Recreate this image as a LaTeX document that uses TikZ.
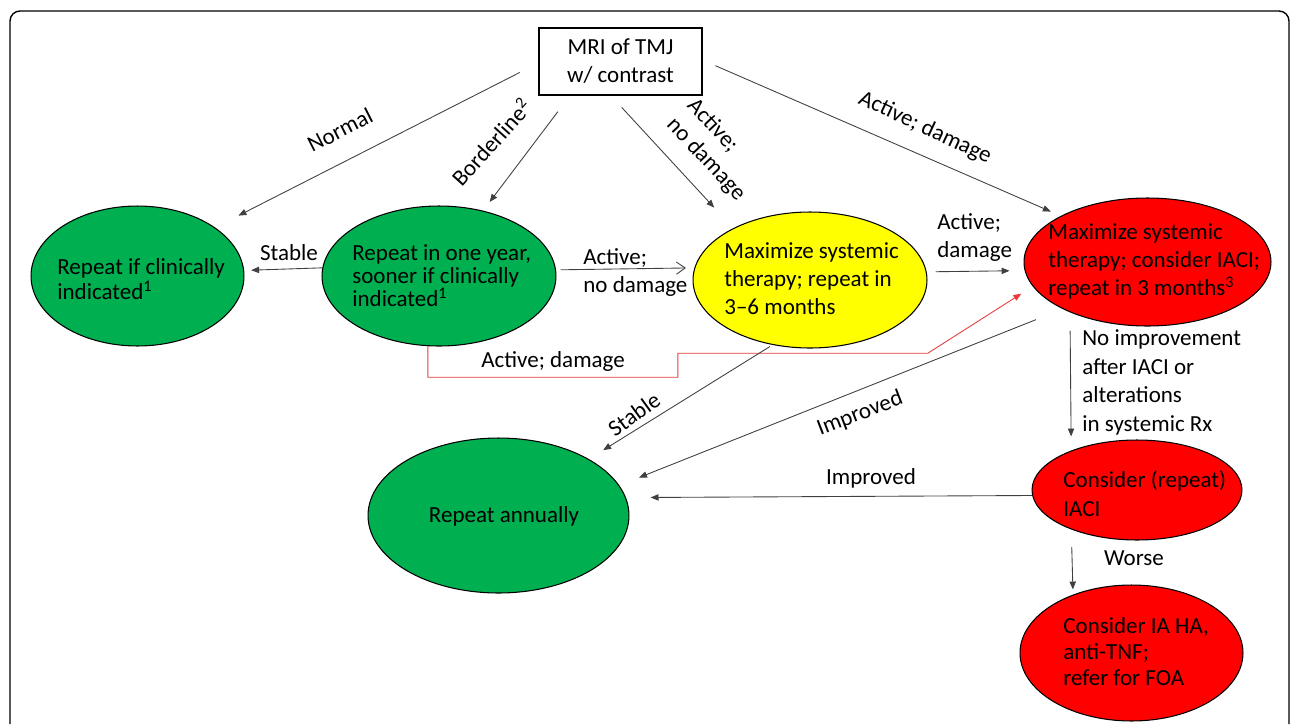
\documentclass[tikz,border=0pt]{standalone}
\usepackage{fontspec}
\setmainfont{Carlito}
\usetikzlibrary{shapes.geometric,arrows.meta}

\definecolor{okgreen}{RGB}{0,176,80}
\definecolor{okyellow}{RGB}{255,255,0}
\definecolor{okred}{RGB}{255,0,0}
\definecolor{lnred}{RGB}{232,60,60}

\tikzset{
  oval/.style={ellipse, draw=black, line width=0.6pt, inner sep=0pt},
  txt/.style={align=left, anchor=west, inner sep=0pt},
  lbl/.style={inner sep=0pt},
  conn/.style={line width=0.5pt, draw=black!75, -{Triangle[length=4.5pt,width=3.6pt]}},
}
\newcommand{\fs}[1]{\fontsize{13.1}{#1}\selectfont}

\begin{document}
\begin{tikzpicture}[x=0.02cm, y=-0.02cm, font=\fs{15.9}]

\useasboundingbox (0,0) rectangle (1292,724);
\draw[line width=0.8pt, rounded corners=0.2cm] (10,724) -- (10,11) -- (1289,11) -- (1289,724);

% boxes
\node[draw, line width=0.6pt, minimum width=3.26cm, minimum height=1.34cm, align=center] (mri) at (620.5,61.5) {MRI of TMJ\\w/ contrast};
\node[oval, fill=okgreen, minimum width=4.26cm, minimum height=2.8cm] (once) at (137.5,276) {};
\node[oval, fill=okgreen, minimum width=4.68cm, minimum height=2.8cm] (twice) at (439,276) {};
\node[oval, fill=okyellow, minimum width=4.68cm, minimum height=2.72cm] (maxsys) at (810,280) {};
\node[oval, fill=okred, minimum width=4.94cm, minimum height=2.56cm] (maxrx) at (1147.5,262) {};
\node[oval, fill=okgreen, minimum width=5.22cm, minimum height=3.1cm] (annual) at (498.5,515.5) {};
\node[oval, fill=okred, minimum width=4.2cm, minimum height=2cm] (iaci) at (1137,490) {};
\node[oval, fill=okred, minimum width=4.46cm, minimum height=2.72cm] (refer) at (1131.5,653) {};

% texts in the ovals
\node[txt, font=\fs{14.2}] (onceT) at (57,279) {Repeat if clinically\\indicated\textsuperscript{1}};
\node[txt, font=\fs{13}] (twiceT) at (352,275.5) {Repeat in one year,\\sooner if clinically\\indicated\textsuperscript{1}};
\node[txt] (maxsysT) at (724,279) {Maximize systemic\\therapy; repeat in\\3--6 months};
\node[txt] (maxrxT) at (1048,261) {Maximize systemic\\therapy; consider IACI;\\repeat in 3 months\textsuperscript{3}};
\node[lbl] (annualT) at (504,516) {Repeat annually};
\node[txt, font=\fs{16.4}] (iaciT) at (1063,493.5) {Consider (repeat)\\IACI};
\node[txt, font=\fs{15}] (referT) at (1063,651.5) {Consider IA HA,\\anti-TNF;\\refer for FOA};

% connectors
\draw[conn, shorten <=12pt, shorten >=14.9pt] (mri.181.3) -- (once.32);
\draw[conn, shorten <=11.5pt, shorten >=6.2pt] (mri.214.9) -- (twice.56.5);
\draw[conn, shorten <=9.2pt, shorten >=15.9pt] (mri.254.3) -- (maxsys.146.4);
\draw[conn, shorten <=8pt, shorten >=6.2pt] (mri.1.5) -- (maxrx.152.5);
\draw[conn, shorten >=4pt] (twice.176.6) -- (once.3.8);
\draw[conn, -{Straight Barb[length=5pt,width=7pt]}, shorten <=2.6pt, shorten >=4.8pt] (twice.3.4) -- (maxsys.174.6);
\draw[conn, shorten <=5.1pt, shorten >=8.6pt] (maxsys.4.4) -- (maxrx.184.2);
\draw[conn, draw=lnred, -{Triangle[length=4.5pt,width=3.6pt]}, shorten >=7.7pt] (twice.261) -- ++(0,31) -- ++(250,0) -- ++(0,-24) -- ++(250,0) -- (maxrx.192.3);
\draw[conn, shorten <=1.7pt, shorten >=9.6pt] (maxsys.240.2) -- (annual.32.5);
\draw[conn, shorten <=16.3pt, shorten >=12.1pt] (maxrx.209.8) -- (annual.14.4);
\draw[conn, shorten >=14pt] (iaci.183.3) -- (annual.8.3);
\draw[conn, shorten <=10.6pt, shorten >=8pt] (maxrx.213.3) -- (iaci.149.5);
\draw[conn, shorten <=9.9pt, shorten >=2.9pt] (iaci.211.7) -- (refer.135.3);

% labels
\node[lbl, rotate=26.9] (lNormal) at (340,130) {Normal};
\node[lbl, rotate=48] (lBorder) at (491,142) {Borderline\textsuperscript{2}};
\node[lbl, rotate=-47, align=left] (lActND) at (716,150) {Active;\\no damage};
\node[lbl, rotate=-25] (lActD) at (925,128) {Active; damage};
\node[lbl] (lStab1) at (289,253) {Stable};
\node[txt] (lActND2) at (583,272.5) {Active;\\no damage};
\node[txt] (lActD2) at (937,237.5) {Active;\\damage};
\node[lbl] (lActD3) at (553,361) {Active; damage};
\node[lbl, rotate=36] (lStab2) at (634,414) {Stable};
\node[lbl, rotate=21] (lImpr1) at (860,414) {Improved};
\node[lbl] (lImpr2) at (871,478) {Improved};
\node[txt, font=\fs{16.2}] (lNoImp) at (1082,382.5) {No improvement\\after IACI or\\alterations\\in systemic Rx};
\node[lbl] (lWorse) at (1134,558) {Worse};

\end{tikzpicture}
\end{document}
